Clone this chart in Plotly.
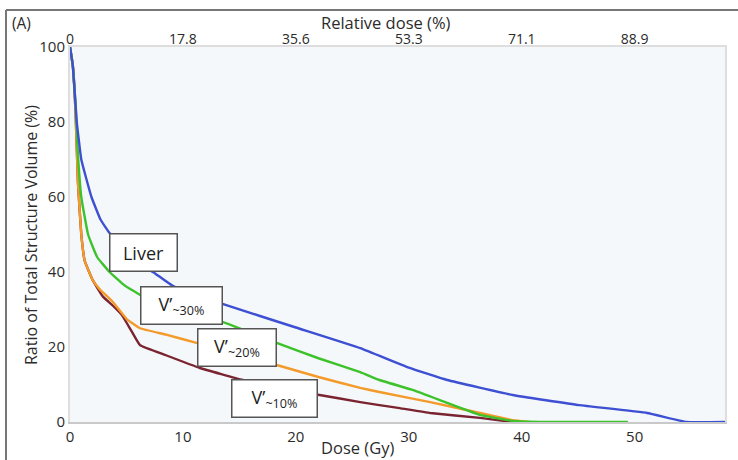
import plotly.graph_objects as go

# ---- data ----
liver_dose = [0, 0.25, 0.6, 1.0, 1.9, 2.7, 3.5, 5.0, 6.3, 7.5, 9.1, 13.5, 20, 25.7, 30, 33.4, 39.2, 45.1, 51.1, 54.6, 58]
liver_vol = [100, 95, 80, 70, 60, 54, 50.4, 45.5, 42, 39.7, 36.3, 31.5, 25.2, 19.7, 14.5, 11.2, 7.2, 4.5, 2.4, 0, 0]

v30_dose = [0, 0.25, 0.5, 0.65, 1.0, 1.6, 2.4, 3.5, 4.8, 6.2, 9.0, 13.5, 18.3, 22, 25.7, 27.4, 30.4, 33.4, 36.3, 39.2, 42.2, 49.4]
v30_vol = [100, 95, 84, 74, 60, 50, 44, 40, 36.5, 33.9, 30.5, 26.7, 21.1, 17, 13.3, 11.2, 8.5, 5.1, 1.9, 0.3, 0, 0]

v20_dose = [0, 0.25, 0.5, 0.7, 1.0, 1.3, 2.0, 2.6, 3.8, 5.0, 6.2, 8.5, 11.2, 15, 18.3, 22, 25.7, 27.4, 31.9, 36.3, 39.2, 40.7]
v20_vol = [100, 95, 82, 64, 50, 43, 37.9, 35.5, 32, 27.5, 25, 23.3, 21.1, 17.8, 15.2, 12, 9.1, 8.0, 5.3, 2.4, 0.5, 0]

v10_dose = [0, 0.25, 0.5, 0.7, 1.0, 1.3, 2.0, 2.9, 3.8, 4.6, 5.4, 6.2, 8.5, 11.5, 15.3, 18.5, 22.1, 25.7, 27.4, 29.2, 31.9, 36.3, 39.2]
v10_vol = [100, 95, 82, 64, 50, 43, 37.9, 33.5, 31, 28.5, 24.5, 20.5, 17.8, 14.4, 11.2, 9, 7.2, 5.3, 4.5, 3.7, 2.4, 1.1, 0]

x_ticks = [0, 10, 20, 30, 40, 50]
rel_tick_text = ["0", "17.8", "35.6", "53.3", "71.1", "88.9"]
y_ticks = [0, 20, 40, 60, 80, 100]

labels = ["Liver", "V’<sub>~30%</sub>", "V’<sub>~20%</sub>", "V’<sub>~10%</sub>"]
label_x = [6.5, 9.9, 14.8, 18.1]
label_y = [45.2, 31.2, 19.75, 6.15]
label_w = [66, 80, 77, 84]

FONT = "Open Sans"
TXT = "#2b2b2b"
L, R, T, B = 70, 725, 47, 422
PW, PH = R - L, B - T


def px(x):
    return (x - L) / PW


def py(y):
    return (B - y) / PH


fig = go.Figure()
for d, v, c in [(v10_dose, v10_vol, "#7b2431"),
                (v20_dose, v20_vol, "#f39a2a"),
                (v30_dose, v30_vol, "#3cc22a"),
                (liver_dose, liver_vol, "#3d4fd2")]:
    fig.add_trace(go.Scatter(x=d, y=v, mode="lines",
                             line=dict(color=c, width=2.4, shape="spline", smoothing=0.3),
                             hoverinfo="skip", showlegend=False))

# invisible trace for the top axis
fig.add_trace(go.Scatter(x=[0, 58], y=[0, 0], xaxis="x2", mode="lines", line=dict(width=0),
                         opacity=0, showlegend=False, hoverinfo="skip"))

fig.update_layout(
    width=738, height=460,
    margin=dict(l=L, r=738 - R, t=T, b=460 - B, autoexpand=False),
    paper_bgcolor="white", plot_bgcolor="#f5f8fa",
    font=dict(family=FONT, size=14, color=TXT),
    xaxis=dict(range=[0, 58], tickvals=x_ticks, showgrid=False, zeroline=False, automargin=False,
               showline=True, linecolor="#c9c9c9", linewidth=2, ticks="",
               tickfont=dict(size=15, color=TXT)),
    xaxis2=dict(range=[0, 58], overlaying="x", side="top", tickvals=x_ticks, ticktext=rel_tick_text,
                showgrid=False, zeroline=False, showline=True, linecolor="#dedede", linewidth=2, ticks="",
                automargin=False, ticklabelstandoff=-5, tickfont=dict(size=14, color=TXT)),
    yaxis=dict(range=[0, 100], tickvals=y_ticks, showgrid=False, zeroline=False, automargin=False,
               showline=True, linecolor="#dedede", linewidth=2, mirror=True, ticks="",
               tickfont=dict(size=15, color=TXT)),
)

for t, x, y, w in zip(labels, label_x, label_y, label_w):
    fig.add_annotation(x=x, y=y, xref="x", yref="y", text=t, showarrow=False,
                       width=w, height=36, borderpad=0, bgcolor="white",
                       bordercolor="#555555", borderwidth=1.5,
                       font=dict(size=18, color="#1e1e1e", family=FONT))

fig.add_annotation(x=px(386), y=py(22.5), xref="paper", yref="paper", xanchor="center", yanchor="middle",
                   text="Relative dose (%)", showarrow=False, font=dict(size=16.5, color=TXT))
fig.add_annotation(x=px(357), y=py(447), xref="paper", yref="paper", xanchor="center", yanchor="middle",
                   text="Dose (Gy)", showarrow=False, font=dict(size=16.5, color=TXT))
fig.add_annotation(x=px(31), y=py(235), xref="paper", yref="paper", xanchor="center", yanchor="middle",
                   textangle=-90, text="Ratio of Total Structure Volume (%)", showarrow=False,
                   font=dict(size=16, color=TXT))
fig.add_annotation(x=px(21), y=py(23), xref="paper", yref="paper", xanchor="center", yanchor="middle",
                   text="(A)", showarrow=False, font=dict(size=15.5, color=TXT))

# outer frame (top and left edges)
fig.add_shape(type="line", xref="paper", yref="paper", x0=px(6), x1=px(738),
              y0=py(10), y1=py(10), line=dict(color="#777777", width=2))
fig.add_shape(type="line", xref="paper", yref="paper", x0=px(6), x1=px(6),
              y0=py(10), y1=py(462), line=dict(color="#777777", width=2))

fig.write_html("out.html", config={"displayModeBar": False},
               post_script="document.body.style.margin='0';document.body.style.padding='0';")
